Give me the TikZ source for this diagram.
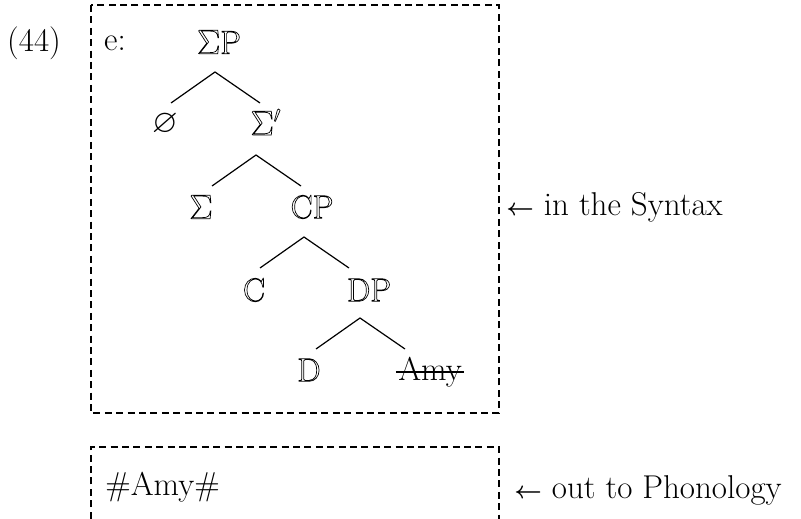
\documentclass[tikz,border=0pt]{standalone}
\usepackage{amssymb}
\usetikzlibrary{calc,positioning}
\newcommand{\hollow}[1]{\special{pdf:literal direct 1 Tr 0.35 w}#1\special{pdf:literal direct 0 Tr}}
\newcommand{\larr}{{\fontsize{12}{14}\selectfont\boldmath$\leftarrow$}}
\tikzset{
  label text/.style={inner sep=0pt, font=\fontsize{16.5}{19}\selectfont},
  cat/.style={label text, anchor=center},
  branch/.style={line width=0.6pt},
  strike/.style={line width=0.7pt},
  dashbox/.style={line width=0.65pt, dash pattern=on 3.5pt off 2.2pt}
}

\begin{document}
\begin{tikzpicture}[x=0.5pt, y=-0.5pt]
  \useasboundingbox (0,0) rectangle (801,518);

  % the two stages
  \draw[dashbox] (91,5) rectangle (499,413);
  \draw[dashbox] (91,530) |- (499,447) -- (499,530);

  \node[label text] (num) at (34,43) {(44)};
  \node[label text] (tag) at (115,43) {e:};

  % tree
  \node[cat] (sp)    at (219,42)  {\hollow{$\Sigma$P}};
  \node[cat] (null)  at (165,124) {$\varnothing$};
  \node[cat] (sbar)  at (266,122) {\hollow{$\Sigma'$}};
  \node[cat] (sig)   at (201,207) {\hollow{$\Sigma$}};
  \node[cat] (cp)    at (312,207) {\hollow{CP}};
  \node[cat] (c)     at (254,290) {\hollow{C}};
  \node[cat] (dp)    at (369,290) {\hollow{DP}};
  \node[cat] (d)     at (309,370) {\hollow{D}};
  \node[cat] (amy)   at (430,372) {Amy};
  \draw[strike] ([xshift=-1pt]amy.west) -- ([xshift=1pt]amy.east);

  % branching points under each mother
  \coordinate (sp-a)   at (215,72);
  \coordinate (sbar-a) at (256,155);
  \coordinate (cp-a)   at (304,237);
  \coordinate (dp-a)   at (360,318);
  \foreach \m/\l/\r in {sp/null/sbar, sbar/sig/cp, cp/c/dp, dp/d/amy}{
    \coordinate (\l-f) at ($(\m-a)+(-44,31)$);
    \coordinate (\r-f) at ($(\m-a)+(45,31)$);
    \draw[branch] (\l-f) -- (\m-a) -- (\r-f);
  }

  % what leaves the syntax
  \node[label text, anchor=west] (spell) at (105,487) {\#Amy\#};
  \node[label text, anchor=west] (syn) at (506,207) {\larr\ in the Syntax};
  \node[label text, anchor=west] (pho) at (514,490) {\larr\ out to Phonology};
\end{tikzpicture}
\end{document}
